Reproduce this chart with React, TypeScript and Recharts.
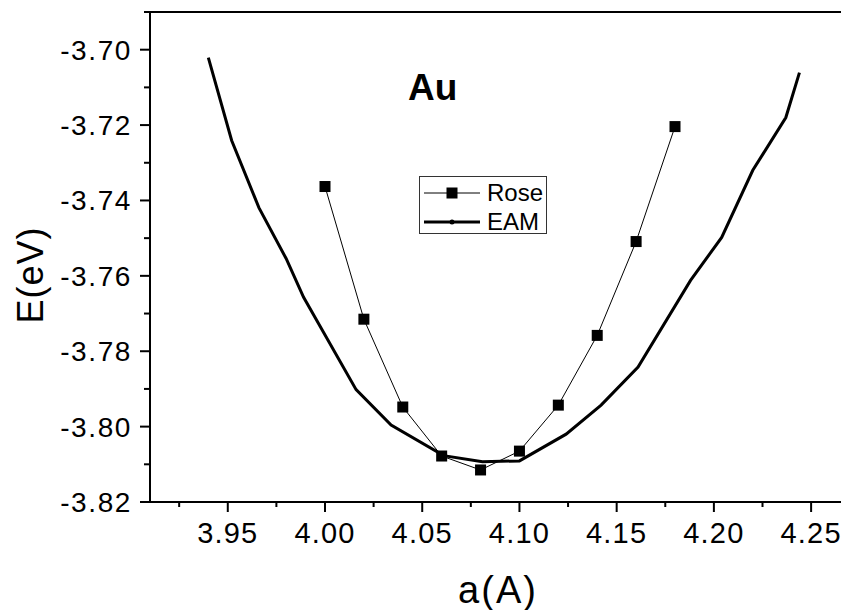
import React from 'react'
import { LineChart, Line, XAxis, YAxis, ReferenceLine } from 'recharts'

// Rose (squares)
const roseA = [4.0, 4.02, 4.04, 4.06, 4.08, 4.1, 4.12, 4.14, 4.16, 4.18]
const roseE = [-3.7363, -3.7715, -3.7948, -3.8078, -3.8115, -3.8065, -3.7943, -3.7758, -3.7509, -3.7204]

// EAM (thick line)
const eamA = [3.94, 3.952, 3.966, 3.98, 3.989, 4.016, 4.034, 4.061, 4.081, 4.1, 4.124, 4.142, 4.161, 4.188, 4.204, 4.22, 4.237, 4.244]
const eamE = [-3.7021, -3.7241, -3.7419, -3.7554, -3.7657, -3.7902, -3.7996, -3.8077, -3.8093, -3.8091, -3.802, -3.7943, -3.7842, -3.7612, -3.7498, -3.732, -3.718, -3.7061]

const xTicks = [3.925, 3.95, 3.975, 4.0, 4.025, 4.05, 4.075, 4.1, 4.125, 4.15, 4.175, 4.2, 4.225, 4.25]
const xTickLabels = ['', '3.95', '', '4.00', '', '4.05', '', '4.10', '', '4.15', '', '4.20', '', '4.25']

const yTicks = [-3.82, -3.81, -3.8, -3.79, -3.78, -3.77, -3.76, -3.75, -3.74, -3.73, -3.72, -3.71, -3.7, -3.69]
const yTickLabels = ['-3.82', '', '-3.80', '', '-3.78', '', '-3.76', '', '-3.74', '', '-3.72', '', '-3.70', '']

const roseData = roseA.map((a, i) => ({ a, e: roseE[i] }))
const eamData = eamA.map((a, i) => ({ a, e: eamE[i] }))

const FONT = '"Liberation Sans", Arial, sans-serif'

const XTick = (props: any) => {
  const { x, y, payload } = props
  const idx = xTicks.findIndex(t => Math.abs(t - payload.value) < 1e-6)
  const label = idx >= 0 ? xTickLabels[idx] : ''
  const major = label !== ''
  return (
    <g>
      <line x1={x} x2={x} y1={y} y2={y + (major ? 10 : 5)} stroke="#000" strokeWidth={2} />
      {major && (
        <text x={x} y={y + 41} textAnchor="middle" fontSize={29} letterSpacing={1.2} fontFamily={FONT} fill="#000">
          {label}
        </text>
      )}
    </g>
  )
}

const YTick = (props: any) => {
  const { x, y, payload } = props
  const idx = yTicks.findIndex(t => Math.abs(t - payload.value) < 1e-6)
  const label = idx >= 0 ? yTickLabels[idx] : ''
  const major = label !== ''
  return (
    <g>
      <line x1={x - (major ? 10 : 6)} x2={x} y1={y} y2={y} stroke="#000" strokeWidth={2} />
      {major && (
        <text x={x - 18} y={y + 10} textAnchor="end" fontSize={28} letterSpacing={1.6} fontFamily={FONT} fill="#000">
          {label}
        </text>
      )}
    </g>
  )
}

const SquareDot = (props: any) => {
  const { cx, cy, index } = props
  return <rect key={`sq-${index}`} x={cx - 5.5} y={cy - 5.5} width={11} height={11} fill="#000" />
}

const App: React.FC = () => {
  return (
    <div style={{ position: 'absolute', left: 0, top: 0, width: 841, height: 610, overflow: 'hidden', background: '#fff' }}>
      <LineChart width={860} height={610} margin={{ top: 12, right: 10, left: 0, bottom: 0 }}>
        <XAxis
          type="number"
          dataKey="a"
          domain={[3.91, 4.27]}
          ticks={xTicks}
          interval={0}
          allowDataOverflow
          height={108}
          tickSize={0}
          tickMargin={0}
          tickLine={false}
          axisLine={{ stroke: '#000', strokeWidth: 2 }}
          tick={<XTick />}
          label={{
            content: () => (
              <text x={498} y={603} textAnchor="middle" fontSize={38} letterSpacing={2} fontFamily={FONT} fill="#000">
                a(A)
              </text>
            )
          }}
        />
        <YAxis
          type="number"
          dataKey="e"
          domain={[-3.82, -3.69]}
          ticks={yTicks}
          interval={0}
          allowDataOverflow
          width={150}
          tickSize={0}
          tickMargin={0}
          tickLine={false}
          axisLine={{ stroke: '#000', strokeWidth: 2 }}
          tick={<YTick />}
          label={{
            content: () => (
              <text
                x={43}
                y={275}
                transform="rotate(-90 43 275)"
                textAnchor="middle"
                fontSize={36}
                letterSpacing={1}
                fontFamily={FONT}
                fill="#000"
              >
                E(eV)
              </text>
            )
          }}
        />
        <ReferenceLine y={-3.69} stroke="#000" strokeWidth={2} ifOverflow="visible" />
        <Line
          data={eamData}
          dataKey="e"
          type="linear"
          stroke="#000"
          strokeWidth={3}
          dot={false}
          activeDot={false}
          isAnimationActive={false}
        />
        <Line
          data={roseData}
          dataKey="e"
          type="linear"
          stroke="#000"
          strokeWidth={1}
          dot={<SquareDot />}
          activeDot={false}
          isAnimationActive={false}
        />
      </LineChart>

      <div
        style={{
          position: 'absolute',
          left: 408,
          top: 68,
          fontFamily: FONT,
          fontWeight: 'bold',
          fontSize: 37,
          lineHeight: '40px',
          color: '#000'
        }}
      >
        Au
      </div>

      <div
        style={{
          position: 'absolute',
          left: 419,
          top: 176,
          width: 126,
          height: 56,
          border: '1px solid #333',
          background: '#fff',
          fontFamily: FONT,
          fontSize: 24,
          color: '#000'
        }}
      >
        <svg width={62} height={56} style={{ position: 'absolute', left: 4, top: 0 }}>
          <line x1={0} x2={56} y1={16} y2={16} stroke="#000" strokeWidth={1} />
          <rect x={22.5} y={10.5} width={11} height={11} fill="#000" />
          <line x1={0} x2={56} y1={45} y2={45} stroke="#000" strokeWidth={3} />
          <circle cx={28} cy={45} r={2.5} fill="#000" />
        </svg>
        <div style={{ position: 'absolute', left: 67, top: 2, lineHeight: '28px' }}>Rose</div>
        <div style={{ position: 'absolute', left: 67, top: 31, lineHeight: '28px' }}>EAM</div>
      </div>
    </div>
  )
}

export default App
